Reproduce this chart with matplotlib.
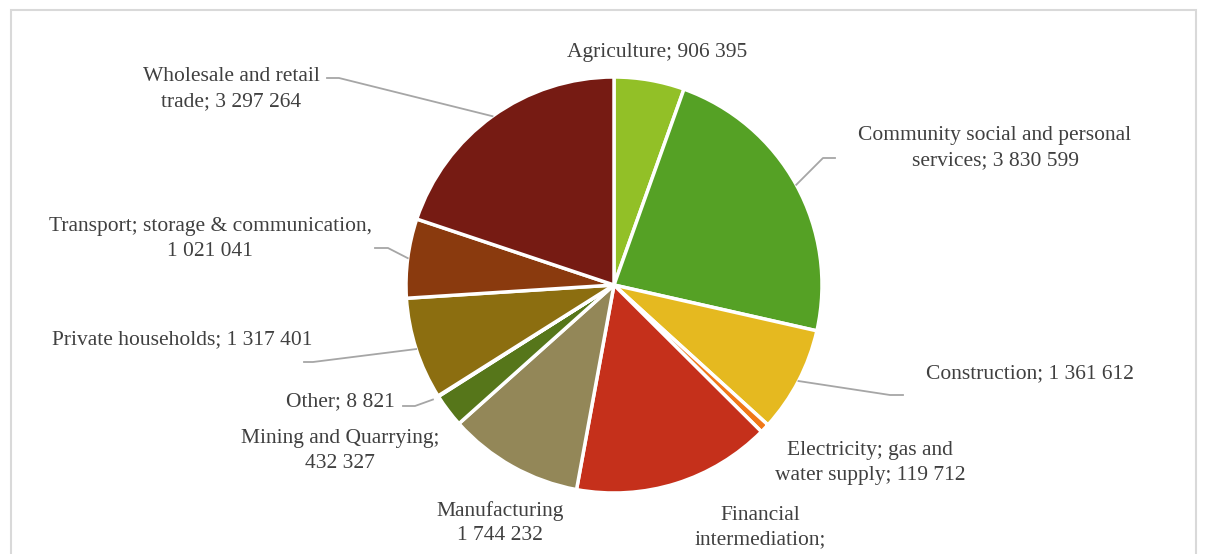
import numpy as np
import matplotlib
matplotlib.use("Agg")
import matplotlib.pyplot as plt
from matplotlib.lines import Line2D
from matplotlib.patches import Rectangle

# employment by sector (financial value is cut off in the source, estimated)
sectors = ["Agriculture", "Community social and personal services", "Construction",
           "Electricity; gas and water supply", "Financial intermediation", "Manufacturing",
           "Mining and Quarrying", "Other", "Private households",
           "Transport; storage & communication", "Wholesale and retail trade"]
values = [906395, 3830599, 1361612, 119712, 2560000, 1744232,
          432327, 8821, 1317401, 1021041, 3297264]
label_fmt = ["Agriculture; {}", "Community social and personal\nservices; {}",
             "Construction; {}", "Electricity; gas and\nwater supply; {}",
             "Financial\nintermediation;\n{}", "Manufacturing\n{}",
             "Mining and Quarrying;\n{}", "Other; {}", "Private households; {}",
             "Transport; storage & communication,\n{}", "Wholesale and retail\ntrade; {}"]
colors = ["#92C027", "#55A125", "#E5B920", "#F07818", "#C5301B", "#938758",
          "#56761A", "#7A5A10", "#8C6E10", "#8A3A0E", "#761B13"]

W, H = 1206, 554


def px(x, y):
    return x / W, 1 - y / H


fig = plt.figure(figsize=(W / 100, H / 100), dpi=100)

# chart area border (bottom edge is outside the crop)
fig.patches.append(Rectangle(px(11, 600), (1196 - 11) / W, 590 / H, transform=fig.transFigure,
                             fill=False, edgecolor="#D9D9D9", linewidth=1.5))

cx, cy, r = 614, 285, 208
ax = fig.add_axes([(cx - r) / W, (H - cy - r) / H, 2 * r / W, 2 * r / H])
wedges, _ = ax.pie(values, colors=colors, startangle=90, counterclock=False, radius=1,
                   wedgeprops=dict(edgecolor="white", linewidth=2.5))
ax.set_xlim(-1, 1)
ax.set_ylim(-1, 1)
ax.set_aspect("auto")
ax.axis("off")

# label block centres in image pixels
label_pos = [(657, 53), (995, 148), (1030, 374), (870, 463), (760, 540), (500, 523),
             (340, 451), (340, 402), (182, 340), (210, 239), (231, 89)]

txt_kw = dict(family=["Liberation Serif", "DejaVu Serif"], fontsize=15.5, color="#404040",
              ha="center", va="center", linespacing=1.4)
for fmt, v, (x, y) in zip(label_fmt, values, label_pos):
    s = fmt.format(f"{v:,}".replace(",", " "))
    fig.text(*px(x, y), s, **txt_kw)

# leader lines: wedge index -> (elbow, end) in image pixels
leaders = {1: [(823, 158), (835, 158)],
           2: [(890, 395), (903, 395)],
           7: [(415, 406), (403, 406)],
           8: [(313, 362), (304, 362)],
           9: [(388, 248), (375, 248)],
           10: [(339, 78), (327, 78)]}
inv = fig.transFigure.inverted()
for i, pts in leaders.items():
    w = wedges[i]
    mid = np.deg2rad((w.theta1 + w.theta2) / 2)
    rr = 1.03 if i == 7 else 1.0
    anchor = inv.transform(ax.transData.transform((rr * np.cos(mid), rr * np.sin(mid))))
    xs = [anchor[0]] + [px(*p)[0] for p in pts]
    ys = [anchor[1]] + [px(*p)[1] for p in pts]
    fig.lines.append(Line2D(xs, ys, transform=fig.transFigure, color="#A6A6A6", linewidth=1.3))

fig.savefig("out.png", dpi=100, facecolor="white")
